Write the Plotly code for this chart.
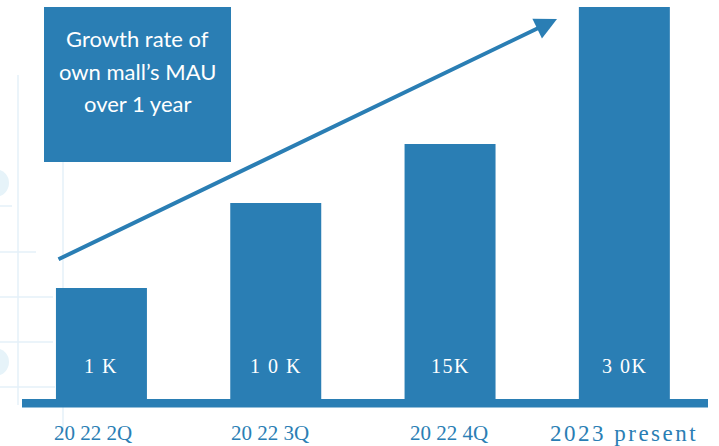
import plotly.graph_objects as go

# ---- data ----
categories = ["2022 2Q", "2022 3Q", "2022 4Q", "2023 present"]
category_labels = ["20 22 2Q", "20 22 3Q", "20 22 4Q", "2023 present"]
bar_heights = [111, 196, 255, 392]          # visual bar heights (estimated)
value_labels = ["1 K", "1 0 K", "15K", "3 0K"]
box_lines = ["Growth rate of", "own mall’s MAU", "over 1 year"]

BLUE = "#2A7EB4"
LIGHT = "#E4F1F8"
W, H = 719, 446

fig = go.Figure()
fig.add_trace(go.Bar(
    x=categories, y=bar_heights, width=0.522,
    marker=dict(color=BLUE, line=dict(width=0)),
    hoverinfo="skip", showlegend=False,
))

# value labels inside bars
for c, t in zip(categories, value_labels):
    fig.add_annotation(x=c, y=33, text=f'<span style="letter-spacing:1.5px">{t}</span>',
                       showarrow=False, xanchor="center", yanchor="middle",
                       font=dict(family="Liberation Serif", size=20, color="white"))

# category labels under the base line
label_xshift = [-8, -6, -1, 0]
for i, (c, t) in enumerate(zip(categories, category_labels)):
    last = i == len(categories) - 1
    txt = f'<span style="letter-spacing:2.5px">{t}</span>' if last else t
    fig.add_annotation(x=c, y=-34, text=txt, showarrow=False,
                       xanchor="center", yanchor="middle", xshift=label_xshift[i],
                       font=dict(family="Liberation Serif", size=23 if last else 21, color=BLUE))

shapes = []
# decorative background grid (left)
def px_line(x0, y0, x1, y1):
    shapes.append(dict(type="line", xref="paper", yref="paper",
                       x0=x0 / W, x1=x1 / W, y0=1 - y0 / H, y1=1 - y1 / H,
                       line=dict(color=LIGHT, width=1.5), layer="below"))
px_line(18, 75, 18, 405)
px_line(63, 162, 63, 432)
for yy, xx in [(206, 12), (252, 36), (297, 53), (342, 53), (387, 55)]:
    px_line(0, yy, xx, yy)
for cy in [183, 362]:
    shapes.append(dict(type="circle", xref="paper", yref="paper",
                       x0=-19 / W, x1=9 / W, y0=1 - (cy + 14) / H, y1=1 - (cy - 14) / H,
                       fillcolor="#E6F3F9", line=dict(width=0), layer="below"))
# base line
shapes.append(dict(type="rect", xref="paper", yref="y", x0=22 / W, x1=708 / W,
                   y0=-8.5, y1=0, fillcolor=BLUE, line=dict(width=0)))
# title box
shapes.append(dict(type="rect", xref="paper", yref="paper", x0=44 / W, x1=231 / W,
                   y0=1 - 162 / H, y1=1 - 7 / H, fillcolor=BLUE, line=dict(width=0)))
fig.update_layout(shapes=shapes)

for line, yy in zip(box_lines, [38, 71, 103]):
    fig.add_annotation(xref="paper", yref="paper", x=137.5 / W, y=1 - yy / H,
                       xanchor="center", yanchor="middle",
                       text=line, showarrow=False, align="center",
                       font=dict(family="Lato", size=22, color="white"))

# growth arrow
fig.add_annotation(xref="paper", yref="paper", x=557 / W, y=1 - 19 / H,
                   axref="pixel", ayref="pixel", ax=-500, ay=241,
                   text="", showarrow=True, arrowhead=2, arrowsize=1.1,
                   arrowwidth=4, arrowcolor=BLUE, standoff=0)

fig.update_layout(
    width=W, height=H, margin=dict(l=0, r=0, t=0, b=0),
    paper_bgcolor="white", plot_bgcolor="white",
    xaxis=dict(range=[-0.582, 3.543], showgrid=False, zeroline=False,
               showticklabels=False, showline=False, fixedrange=True),
    yaxis=dict(range=[-47, 399], showgrid=False, zeroline=False,
               showticklabels=False, showline=False, fixedrange=True),
    bargap=0.2,
)
fig.write_html("out.html", config={"displayModeBar": False},
               post_script="document.body.style.margin='0';document.body.style.overflow='hidden';")
